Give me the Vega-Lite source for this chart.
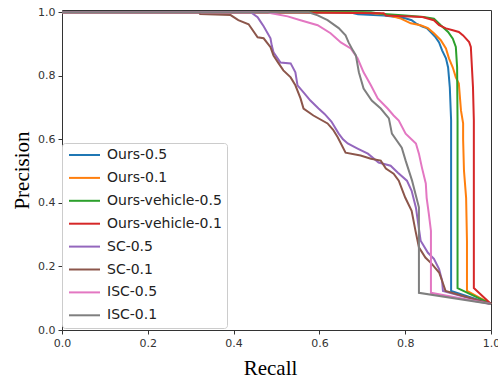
{
  "$schema": "https://vega.github.io/schema/vega-lite/v6.json",
  "width": 429,
  "height": 320,
  "autosize": {"type": "none"},
  "padding": {"left": 62, "top": 10, "right": 7, "bottom": 46},
  "background": "white",
  "config": {
    "view": {"stroke": "#333", "strokeWidth": 1},
    "axis": {
      "domain": false,
      "grid": false,
      "tickColor": "#333",
      "tickSize": 4,
      "labelFont": "DejaVu Sans",
      "labelFontSize": 11,
      "labelColor": "#333",
      "labelPadding": 3,
      "labelFlush": false,
      "labelOverlap": false,
      "titleFont": "Liberation Serif",
      "titleFontSize": 21,
      "titleFontWeight": "normal",
      "titleColor": "black"
    }
  },
  "data": {
    "values": [
      {"s": "Ours-0.5", "r": 0, "p": 1.0},
      {"s": "Ours-0.5", "r": 0.67, "p": 1.0},
      {"s": "Ours-0.5", "r": 0.69, "p": 0.994},
      {"s": "Ours-0.5", "r": 0.75, "p": 0.99},
      {"s": "Ours-0.5", "r": 0.78, "p": 0.985},
      {"s": "Ours-0.5", "r": 0.80, "p": 0.981},
      {"s": "Ours-0.5", "r": 0.815, "p": 0.975},
      {"s": "Ours-0.5", "r": 0.825, "p": 0.965},
      {"s": "Ours-0.5", "r": 0.84, "p": 0.955},
      {"s": "Ours-0.5", "r": 0.85, "p": 0.95},
      {"s": "Ours-0.5", "r": 0.86, "p": 0.937},
      {"s": "Ours-0.5", "r": 0.871, "p": 0.921},
      {"s": "Ours-0.5", "r": 0.879, "p": 0.905},
      {"s": "Ours-0.5", "r": 0.886, "p": 0.88},
      {"s": "Ours-0.5", "r": 0.895, "p": 0.855},
      {"s": "Ours-0.5", "r": 0.9, "p": 0.826},
      {"s": "Ours-0.5", "r": 0.902, "p": 0.795},
      {"s": "Ours-0.5", "r": 0.904, "p": 0.763},
      {"s": "Ours-0.5", "r": 0.907, "p": 0.66},
      {"s": "Ours-0.5", "r": 0.907, "p": 0.123},
      {"s": "Ours-0.5", "r": 1.0, "p": 0.082},

      {"s": "Ours-0.1", "r": 0, "p": 1.0},
      {"s": "Ours-0.1", "r": 0.70, "p": 1.0},
      {"s": "Ours-0.1", "r": 0.75, "p": 0.994},
      {"s": "Ours-0.1", "r": 0.79, "p": 0.98},
      {"s": "Ours-0.1", "r": 0.813, "p": 0.965},
      {"s": "Ours-0.1", "r": 0.836, "p": 0.959},
      {"s": "Ours-0.1", "r": 0.853, "p": 0.95},
      {"s": "Ours-0.1", "r": 0.867, "p": 0.934},
      {"s": "Ours-0.1", "r": 0.883, "p": 0.912},
      {"s": "Ours-0.1", "r": 0.895, "p": 0.886},
      {"s": "Ours-0.1", "r": 0.902, "p": 0.855},
      {"s": "Ours-0.1", "r": 0.911, "p": 0.826},
      {"s": "Ours-0.1", "r": 0.918, "p": 0.795},
      {"s": "Ours-0.1", "r": 0.925, "p": 0.776},
      {"s": "Ours-0.1", "r": 0.93, "p": 0.691},
      {"s": "Ours-0.1", "r": 0.935, "p": 0.65},
      {"s": "Ours-0.1", "r": 0.935, "p": 0.6},
      {"s": "Ours-0.1", "r": 0.937, "p": 0.502},
      {"s": "Ours-0.1", "r": 0.942, "p": 0.416},
      {"s": "Ours-0.1", "r": 0.944, "p": 0.28},
      {"s": "Ours-0.1", "r": 0.944, "p": 0.123},
      {"s": "Ours-0.1", "r": 1.0, "p": 0.082},

      {"s": "Ours-vehicle-0.5", "r": 0, "p": 1.0},
      {"s": "Ours-vehicle-0.5", "r": 0.72, "p": 1.0},
      {"s": "Ours-vehicle-0.5", "r": 0.743, "p": 0.995},
      {"s": "Ours-vehicle-0.5", "r": 0.80, "p": 0.99},
      {"s": "Ours-vehicle-0.5", "r": 0.843, "p": 0.985},
      {"s": "Ours-vehicle-0.5", "r": 0.867, "p": 0.98},
      {"s": "Ours-vehicle-0.5", "r": 0.883, "p": 0.959},
      {"s": "Ours-vehicle-0.5", "r": 0.9, "p": 0.938},
      {"s": "Ours-vehicle-0.5", "r": 0.911, "p": 0.917},
      {"s": "Ours-vehicle-0.5", "r": 0.918, "p": 0.891},
      {"s": "Ours-vehicle-0.5", "r": 0.921, "p": 0.827},
      {"s": "Ours-vehicle-0.5", "r": 0.922, "p": 0.66},
      {"s": "Ours-vehicle-0.5", "r": 0.922, "p": 0.132},
      {"s": "Ours-vehicle-0.5", "r": 1.0, "p": 0.082},

      {"s": "Ours-vehicle-0.1", "r": 0, "p": 1.0},
      {"s": "Ours-vehicle-0.1", "r": 0.55, "p": 0.999},
      {"s": "Ours-vehicle-0.1", "r": 0.75, "p": 0.997},
      {"s": "Ours-vehicle-0.1", "r": 0.755, "p": 0.99},
      {"s": "Ours-vehicle-0.1", "r": 0.84, "p": 0.985},
      {"s": "Ours-vehicle-0.1", "r": 0.867, "p": 0.975},
      {"s": "Ours-vehicle-0.1", "r": 0.879, "p": 0.959},
      {"s": "Ours-vehicle-0.1", "r": 0.895, "p": 0.949},
      {"s": "Ours-vehicle-0.1", "r": 0.911, "p": 0.943},
      {"s": "Ours-vehicle-0.1", "r": 0.925, "p": 0.938},
      {"s": "Ours-vehicle-0.1", "r": 0.935, "p": 0.927},
      {"s": "Ours-vehicle-0.1", "r": 0.949, "p": 0.906},
      {"s": "Ours-vehicle-0.1", "r": 0.953, "p": 0.891},
      {"s": "Ours-vehicle-0.1", "r": 0.958, "p": 0.764},
      {"s": "Ours-vehicle-0.1", "r": 0.96, "p": 0.659},
      {"s": "Ours-vehicle-0.1", "r": 0.96, "p": 0.132},
      {"s": "Ours-vehicle-0.1", "r": 1.0, "p": 0.082},

      {"s": "SC-0.5", "r": 0, "p": 1.0},
      {"s": "SC-0.5", "r": 0.44, "p": 1.0},
      {"s": "SC-0.5", "r": 0.456, "p": 0.984},
      {"s": "SC-0.5", "r": 0.462, "p": 0.972},
      {"s": "SC-0.5", "r": 0.47, "p": 0.956},
      {"s": "SC-0.5", "r": 0.486, "p": 0.918},
      {"s": "SC-0.5", "r": 0.489, "p": 0.895},
      {"s": "SC-0.5", "r": 0.493, "p": 0.874},
      {"s": "SC-0.5", "r": 0.509, "p": 0.842},
      {"s": "SC-0.5", "r": 0.533, "p": 0.839},
      {"s": "SC-0.5", "r": 0.544, "p": 0.811},
      {"s": "SC-0.5", "r": 0.549, "p": 0.77},
      {"s": "SC-0.5", "r": 0.563, "p": 0.748},
      {"s": "SC-0.5", "r": 0.579, "p": 0.722},
      {"s": "SC-0.5", "r": 0.598, "p": 0.697},
      {"s": "SC-0.5", "r": 0.612, "p": 0.68},
      {"s": "SC-0.5", "r": 0.628, "p": 0.656},
      {"s": "SC-0.5", "r": 0.645, "p": 0.618},
      {"s": "SC-0.5", "r": 0.655, "p": 0.6},
      {"s": "SC-0.5", "r": 0.666, "p": 0.587},
      {"s": "SC-0.5", "r": 0.689, "p": 0.571},
      {"s": "SC-0.5", "r": 0.713, "p": 0.555},
      {"s": "SC-0.5", "r": 0.738, "p": 0.527},
      {"s": "SC-0.5", "r": 0.766, "p": 0.517},
      {"s": "SC-0.5", "r": 0.783, "p": 0.495},
      {"s": "SC-0.5", "r": 0.804, "p": 0.47},
      {"s": "SC-0.5", "r": 0.815, "p": 0.438},
      {"s": "SC-0.5", "r": 0.825, "p": 0.385},
      {"s": "SC-0.5", "r": 0.836, "p": 0.281},
      {"s": "SC-0.5", "r": 0.853, "p": 0.243},
      {"s": "SC-0.5", "r": 0.867, "p": 0.224},
      {"s": "SC-0.5", "r": 0.879, "p": 0.192},
      {"s": "SC-0.5", "r": 0.886, "p": 0.155},
      {"s": "SC-0.5", "r": 0.888, "p": 0.123},
      {"s": "SC-0.5", "r": 1.0, "p": 0.082},

      {"s": "SC-0.1", "r": 0, "p": 1.0},
      {"s": "SC-0.1", "r": 0.32, "p": 1.0},
      {"s": "SC-0.1", "r": 0.322, "p": 0.994},
      {"s": "SC-0.1", "r": 0.393, "p": 0.991},
      {"s": "SC-0.1", "r": 0.411, "p": 0.975},
      {"s": "SC-0.1", "r": 0.435, "p": 0.962},
      {"s": "SC-0.1", "r": 0.456, "p": 0.921},
      {"s": "SC-0.1", "r": 0.47, "p": 0.918},
      {"s": "SC-0.1", "r": 0.486, "p": 0.89},
      {"s": "SC-0.1", "r": 0.493, "p": 0.864},
      {"s": "SC-0.1", "r": 0.505, "p": 0.839},
      {"s": "SC-0.1", "r": 0.516, "p": 0.817},
      {"s": "SC-0.1", "r": 0.533, "p": 0.795},
      {"s": "SC-0.1", "r": 0.544, "p": 0.77},
      {"s": "SC-0.1", "r": 0.556, "p": 0.729},
      {"s": "SC-0.1", "r": 0.563, "p": 0.697},
      {"s": "SC-0.1", "r": 0.586, "p": 0.675},
      {"s": "SC-0.1", "r": 0.619, "p": 0.65},
      {"s": "SC-0.1", "r": 0.632, "p": 0.63},
      {"s": "SC-0.1", "r": 0.643, "p": 0.606},
      {"s": "SC-0.1", "r": 0.661, "p": 0.558},
      {"s": "SC-0.1", "r": 0.696, "p": 0.549},
      {"s": "SC-0.1", "r": 0.72, "p": 0.539},
      {"s": "SC-0.1", "r": 0.743, "p": 0.533},
      {"s": "SC-0.1", "r": 0.755, "p": 0.508},
      {"s": "SC-0.1", "r": 0.773, "p": 0.492},
      {"s": "SC-0.1", "r": 0.785, "p": 0.47},
      {"s": "SC-0.1", "r": 0.8, "p": 0.417},
      {"s": "SC-0.1", "r": 0.815, "p": 0.375},
      {"s": "SC-0.1", "r": 0.824, "p": 0.312},
      {"s": "SC-0.1", "r": 0.832, "p": 0.26},
      {"s": "SC-0.1", "r": 0.847, "p": 0.228},
      {"s": "SC-0.1", "r": 0.862, "p": 0.208},
      {"s": "SC-0.1", "r": 0.879, "p": 0.181},
      {"s": "SC-0.1", "r": 0.886, "p": 0.155},
      {"s": "SC-0.1", "r": 0.894, "p": 0.123},
      {"s": "SC-0.1", "r": 1.0, "p": 0.082},

      {"s": "ISC-0.5", "r": 0, "p": 1.0},
      {"s": "ISC-0.5", "r": 0.48, "p": 1.0},
      {"s": "ISC-0.5", "r": 0.488, "p": 0.997},
      {"s": "ISC-0.5", "r": 0.526, "p": 0.987},
      {"s": "ISC-0.5", "r": 0.556, "p": 0.975},
      {"s": "ISC-0.5", "r": 0.596, "p": 0.959},
      {"s": "ISC-0.5", "r": 0.626, "p": 0.934},
      {"s": "ISC-0.5", "r": 0.65, "p": 0.905},
      {"s": "ISC-0.5", "r": 0.673, "p": 0.886},
      {"s": "ISC-0.5", "r": 0.689, "p": 0.855},
      {"s": "ISC-0.5", "r": 0.703, "p": 0.811},
      {"s": "ISC-0.5", "r": 0.72, "p": 0.77},
      {"s": "ISC-0.5", "r": 0.736, "p": 0.729},
      {"s": "ISC-0.5", "r": 0.759, "p": 0.697},
      {"s": "ISC-0.5", "r": 0.773, "p": 0.675},
      {"s": "ISC-0.5", "r": 0.785, "p": 0.659},
      {"s": "ISC-0.5", "r": 0.801, "p": 0.618},
      {"s": "ISC-0.5", "r": 0.825, "p": 0.587},
      {"s": "ISC-0.5", "r": 0.832, "p": 0.555},
      {"s": "ISC-0.5", "r": 0.839, "p": 0.511},
      {"s": "ISC-0.5", "r": 0.848, "p": 0.461},
      {"s": "ISC-0.5", "r": 0.85, "p": 0.416},
      {"s": "ISC-0.5", "r": 0.855, "p": 0.366},
      {"s": "ISC-0.5", "r": 0.86, "p": 0.312},
      {"s": "ISC-0.5", "r": 0.86, "p": 0.117},
      {"s": "ISC-0.5", "r": 1.0, "p": 0.082},

      {"s": "ISC-0.1", "r": 0, "p": 1.0},
      {"s": "ISC-0.1", "r": 0.575, "p": 1.0},
      {"s": "ISC-0.1", "r": 0.596, "p": 0.99},
      {"s": "ISC-0.1", "r": 0.619, "p": 0.975},
      {"s": "ISC-0.1", "r": 0.645, "p": 0.95},
      {"s": "ISC-0.1", "r": 0.661, "p": 0.927},
      {"s": "ISC-0.1", "r": 0.668, "p": 0.905},
      {"s": "ISC-0.1", "r": 0.678, "p": 0.88},
      {"s": "ISC-0.1", "r": 0.685, "p": 0.864},
      {"s": "ISC-0.1", "r": 0.692, "p": 0.811},
      {"s": "ISC-0.1", "r": 0.703, "p": 0.76},
      {"s": "ISC-0.1", "r": 0.722, "p": 0.722},
      {"s": "ISC-0.1", "r": 0.743, "p": 0.697},
      {"s": "ISC-0.1", "r": 0.762, "p": 0.666},
      {"s": "ISC-0.1", "r": 0.769, "p": 0.618},
      {"s": "ISC-0.1", "r": 0.792, "p": 0.574},
      {"s": "ISC-0.1", "r": 0.801, "p": 0.533},
      {"s": "ISC-0.1", "r": 0.816, "p": 0.47},
      {"s": "ISC-0.1", "r": 0.824, "p": 0.428},
      {"s": "ISC-0.1", "r": 0.832, "p": 0.386},
      {"s": "ISC-0.1", "r": 0.832, "p": 0.117},
      {"s": "ISC-0.1", "r": 1.0, "p": 0.082}
    ]
  },
  "mark": {"type": "line", "strokeWidth": 2, "clip": false},
  "encoding": {
    "x": {
      "field": "r", "type": "quantitative",
      "scale": {"domain": [0, 1], "nice": false, "zero": false},
      "axis": {"title": "Recall", "values": [0, 0.2, 0.4, 0.6, 0.8, 1.0], "format": ".1f", "titlePadding": 9, "titleX": 208}
    },
    "y": {
      "field": "p", "type": "quantitative",
      "scale": {"domain": [0, 1.007], "nice": false, "zero": false},
      "axis": {"title": "Precision", "values": [0, 0.2, 0.4, 0.6, 0.8, 1.0], "format": ".1f", "titlePadding": 5}
    },
    "color": {
      "field": "s", "type": "nominal",
      "scale": {
        "domain": ["Ours-0.5", "Ours-0.1", "Ours-vehicle-0.5", "Ours-vehicle-0.1", "SC-0.5", "SC-0.1", "ISC-0.5", "ISC-0.1"],
        "range": ["#1f77b4", "#ff7f0e", "#2ca02c", "#d62728", "#9467bd", "#8c564b", "#e377c2", "#7f7f7f"]
      },
      "legend": {
        "title": null,
        "orient": "none",
        "legendX": 0,
        "legendY": 133,
        "padding": 5,
        "strokeColor": "#cccccc",
        "fillColor": "rgba(255,255,255,0.85)",
        "cornerRadius": 3,
        "symbolType": "M-1,0H5.2",
        "symbolSize": 100,
        "symbolStrokeWidth": 2,
        "labelFont": "DejaVu Sans",
        "labelFontSize": 14,
        "labelColor": "#222",
        "labelOffset": 26,
        "rowPadding": 8.9,
        "labelLimit": 300
      }
    }
  }
}
